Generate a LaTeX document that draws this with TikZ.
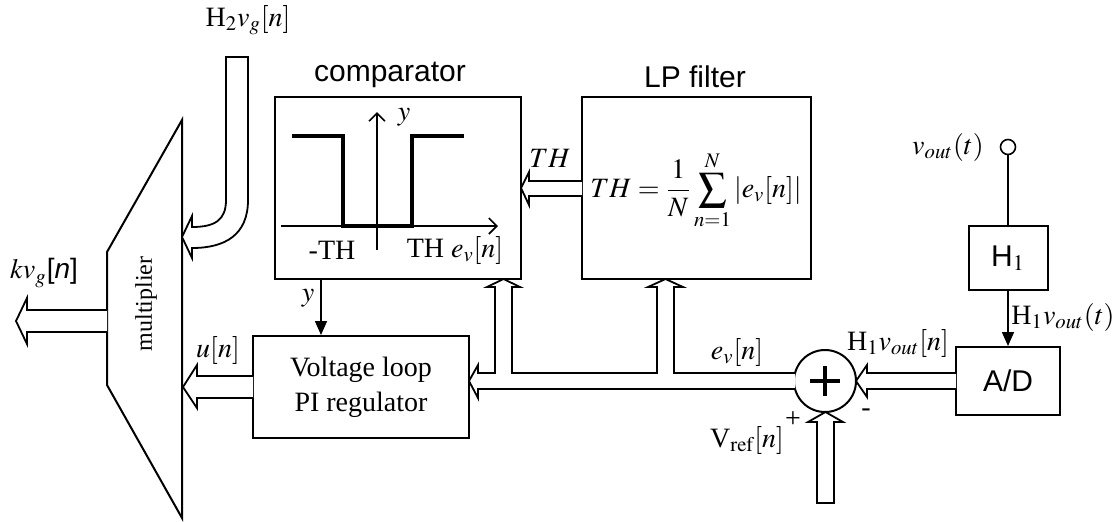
\documentclass[tikz,border=0pt]{standalone}
\usepackage{mathptmx}
\usepackage{fontspec}
\setmainfont{Liberation Serif}
\setsansfont{Liberation Sans}
\usepackage{tikz}
\usetikzlibrary{arrows.meta, positioning, calc}

\tikzset{
  box/.style={draw, line width=1pt, inner sep=0pt},
  hollow/.style={draw, line width=0.9pt, fill=white, line join=miter},
  sig/.style={line width=0.8pt, -{Triangle[length=7pt,width=6pt]}},
  lbl/.style={font=\fontsize{14}{16}\selectfont, inner sep=0pt},
  title/.style={font=\sffamily\fontsize{15}{17}\selectfont, inner sep=0pt},
}

\begin{document}
\begin{tikzpicture}[x=0.5pt, y=-0.5pt]
  \useasboundingbox (0,0) rectangle (1120,521);

  % Blocks
  \node[box, minimum width=123pt, minimum height=91pt] (comp) at (398,188) {};
  \node[box, minimum width=114.5pt, minimum height=91pt] (lp) at (696.5,188) {};
  \node[lbl] (thform) at (696,190)
    {$\displaystyle TH=\frac{1}{N}\sum_{n=1}^{N}\left|e_v[n]\right|$};
  \node[box, minimum width=108pt, minimum height=51pt, align=center,
        font=\fontsize{14}{17.5}\selectfont] (pi) at (361,387)
    {Voltage loop\\PI regulator};
  \node[box, minimum width=39.5pt, minimum height=32pt,
        font=\sffamily\fontsize{15}{17}\selectfont] (h1) at (1008,258) {H$_1$};
  \node[box, minimum width=52pt, minimum height=34pt,
        font=\sffamily\fontsize{15}{17}\selectfont] (ad) at (1008,381) {A/D};
  \node[draw, circle, line width=1pt, minimum size=31pt, inner sep=0pt] (sum) at (825,381) {};
  \node[draw, circle, line width=0.8pt, minimum size=7.5pt, inner sep=0pt] (term) at (1008,147) {};

  % Multiplier
  \draw[line width=1pt] (182,120) -- (182,518) -- (107,385) -- (107,252) -- cycle;
  \node[rotate=90, font=\fontsize{12}{14}\selectfont] (mult) at (146,304) {multiplier};

  % Titles
  \node[title] (compname) at (390,75) {comparator};
  \node[title] (lpname) at (695,77) {LP filter};

  % Comparator characteristic
  \draw[line width=0.8pt, -{Straight Barb[length=4pt,width=8pt]}] (281,226) -- (498,226);
  \draw[line width=0.8pt, -{Straight Barb[length=4pt,width=8pt]}] (377,250) -- (377,112);
  \draw[line width=1.6pt] (292,136) -- (343,136) -- (343,226) -- (412,226) -- (412,136) -- (464,136);
  \node[lbl] (ylab) at (404,117) {$y$};
  \node[lbl] (mth) at (332,250) {-TH};
  \node[lbl] (pth) at (455,250) {TH $e_v[n]$};

  % Sum junction
  \draw[line width=2pt] (810,381) -- (840,381);
  \draw[line width=2pt] (825,366) -- (825,396);

  % Hollow arrows
  \draw[hollow] (192,248) .. controls (225,248) and (248,235) .. (248,200) -- (248,57)
    -- (226,57) -- (226,200) .. controls (226,220) and (215,227) .. (192,227)
    -- (192,216) -- (182,237) -- (192,258) -- cycle;
  \draw[hollow] (107,310) -- (27,310) -- (27,298) -- (16,321) -- (27,344) -- (27,332) -- (107,332);
  \draw[hollow] (253,376) -- (197,376) -- (197,365) -- (183,387) -- (197,408) -- (197,398) -- (253,398);
  \draw[hollow] (582,181) -- (529,181) -- (529,172) -- (521,188) -- (529,205) -- (529,196) -- (582,196);
  \draw[hollow] (956,373) -- (867,373) -- (867,365) -- (856,381) -- (867,397) -- (867,389) -- (956,389);
  \draw[hollow] (817,503) -- (817,422) -- (808,422) -- (825.5,412) -- (843,422) -- (834,422) -- (834,503) -- cycle;
  \draw[hollow] (795,389) -- (478,389) -- (478,398) -- (469,381) -- (478,365) -- (478,373)
    -- (495,373) -- (495,287) -- (487,287) -- (503.5,279) -- (520,287) -- (512,287) -- (512,373)
    -- (657,373) -- (657,287) -- (648,287) -- (665.5,279) -- (683,287) -- (674,287) -- (674,373)
    -- (795,373);

  % Signal lines
  \draw[sig] (comp.south -| 321,0) -- (pi.north -| 321,0);
  \draw[line width=0.8pt] (term) -- (h1);
  \draw[sig] (h1) -- (ad);

  % Labels
  \node[lbl] (h2lab) at (248,20) {H$_2v_g[n]$};
  \node[lbl] (klab) at (44,273) {$kv_g$\textsf{[\textit{n}]}};
  \node[lbl] (ulab) at (218,350) {$u[n]$};
  \node[lbl] (ysig) at (308,298) {$y$};
  \node[lbl] (thlab) at (550,158) {$TH$};
  \node[lbl] (evlab) at (737,352) {$e_v[n]$};
  \node[lbl] (h1nlab) at (898,343) {H$_1v_{out}[n]$};
  \node[lbl] (minus) at (866,413) {-};
  \node[lbl] (vref) at (747,440) {V$_{\mathrm{ref}}[n]$};
  \node[lbl] (plus) at (793,420) {+};
  \node[lbl] (h1tlab) at (1063,317) {H$_1v_{out}(t)$};
  \node[lbl] (voutlab) at (948,147) {$v_{out}(t)$};
\end{tikzpicture}
\end{document}
